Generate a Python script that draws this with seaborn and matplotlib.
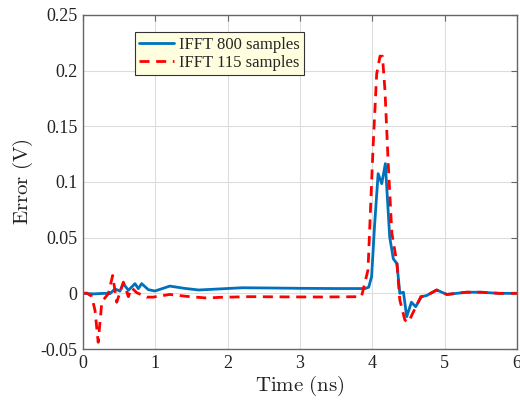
import numpy as np
import pandas as pd
import matplotlib
matplotlib.use('Agg')
import matplotlib.pyplot as plt
import seaborn as sns

# IFFT 800 samples (blue)
t_800 = [0.0, 0.15, 0.30, 0.373, 0.442, 0.51, 0.558, 0.627, 0.719, 0.765, 0.811,
         0.903, 0.995, 1.2, 1.4, 1.6, 1.9, 2.2, 2.6, 3.0, 3.5, 3.9, 3.95, 3.99,
         4.03, 4.08, 4.13, 4.18, 4.24, 4.29, 4.34, 4.38, 4.43, 4.475, 4.54, 4.60,
         4.68, 4.75, 4.89, 5.03, 5.3, 5.5, 5.75, 6.0]
v_800 = [0.0, -0.0005, 0.0, -0.0003, 0.004, 0.002, 0.0087, 0.0027, 0.0087, 0.0042,
         0.0087, 0.0033, 0.0021, 0.0065, 0.0045, 0.003, 0.004, 0.005, 0.0048, 0.0045,
         0.0043, 0.0043, 0.0055, 0.015, 0.06, 0.1075, 0.0985, 0.1165, 0.0506, 0.031,
         0.0267, 0.0, 0.001, -0.021, -0.008, -0.012, -0.003, -0.002, 0.003, -0.001,
         0.001, 0.001, 0.0, 0.0]

# IFFT 115 samples (red dashed)
t_115 = [0.0, 0.05, 0.12, 0.166, 0.21, 0.258, 0.28, 0.35, 0.41, 0.466, 0.558, 0.627,
         0.673, 0.742, 0.88, 0.97, 1.2, 1.43, 1.71, 1.89, 2.3, 2.8, 3.3, 3.85, 3.94,
         4.01, 4.06, 4.106, 4.14, 4.175, 4.22, 4.27, 4.34, 4.38, 4.45, 4.5, 4.55,
         4.67, 4.75, 4.89, 5.03, 5.3, 5.5, 5.75, 6.0]
v_115 = [0.0, 0.0003, -0.0027, -0.0153, -0.044, -0.0093, -0.006, -0.0003, 0.016,
         -0.008, 0.010, -0.003, 0.005, 0.0006, -0.0034, -0.0034, -0.001, -0.0027,
         -0.0042, -0.0036, -0.003, -0.0032, -0.0033, -0.003, 0.021, 0.131, 0.197,
         0.213, 0.213, 0.182, 0.116, 0.054, 0.027, -0.006, -0.024, -0.026, -0.019,
         -0.003, -0.002, 0.003, -0.001, 0.001, 0.001, 0.0, 0.0]

x_ticks = [0, 1, 2, 3, 4, 5, 6]
y_ticks = [-0.05, 0, 0.05, 0.1, 0.15, 0.2, 0.25]
y_tick_labels = ['-0.05', '0', '0.05', '0.1', '0.15', '0.2', '0.25']

sns.set_style('white')
plt.rcParams['font.family'] = ['Liberation Serif', 'DejaVu Serif']
plt.rcParams['mathtext.fontset'] = 'cm'
plt.rcParams['axes.unicode_minus'] = False

fig = plt.figure(figsize=(5.2, 4.03), dpi=100)
ax = fig.add_axes([83 / 520, 1 - 349 / 403, 434 / 520, 334 / 403])

sns.lineplot(x=t_800, y=v_800, ax=ax, color='#0072BD', lw=2, sort=False,
             estimator=None, label='IFFT 800 samples')
sns.lineplot(x=t_115, y=v_115, ax=ax, color='#FF0000', lw=2, sort=False,
             estimator=None, label='IFFT 115 samples', dashes=False)
ax.lines[1].set_linestyle((0, (3.6, 2.4)))

ax.set_xlim(0, 6)
ax.set_ylim(-0.05, 0.25)
ax.set_xticks(x_ticks)
ax.set_xticklabels([str(v) for v in x_ticks])
ax.set_yticks(y_ticks)
ax.set_yticklabels(y_tick_labels)
ax.grid(True, color='#dddddd', lw=0.8)
ax.set_axisbelow(True)
for s in ax.spines.values():
    s.set_visible(True)
    s.set_color('#666666')
    s.set_linewidth(1.0)
ax.tick_params(direction='in', length=4, width=0.8, color='#666666',
               labelsize=13, labelcolor='#222222', top=True, right=True, pad=4)
ax.set_xlabel(r'$\mathrm{Time\ (ns)}$', fontsize=15, color='#222222', labelpad=2)
ax.set_ylabel(r'$\mathrm{Error\ (V)}$', fontsize=15, color='#222222', labelpad=4)

leg = ax.legend(loc='upper left', bbox_to_anchor=(0.12, 0.948), borderaxespad=0,
                fontsize=12, fancybox=False, framealpha=1, handlelength=2.1,
                handletextpad=0.3, borderpad=0.25, labelspacing=0.15)
leg.get_frame().set_facecolor('#FFFFE0')
leg.get_frame().set_edgecolor('#333333')
leg.get_frame().set_linewidth(0.8)

fig.savefig('out.png', dpi=100)
